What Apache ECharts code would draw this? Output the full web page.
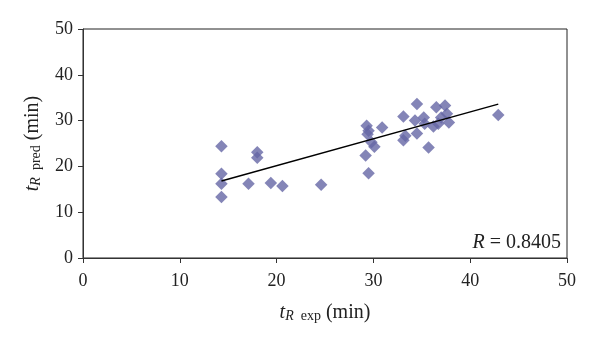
<!DOCTYPE html>
<html><head><meta charset="utf-8">
<script src="https://cdn.jsdelivr.net/npm/echarts@6/dist/echarts.min.js"></script>
<style>html,body{margin:0;padding:0;background:#fff}#c{width:600px;height:343px}</style>
</head><body><div id="c"></div>
<script>
const tExp = [14.3,14.3,14.3,14.3,17.1,18.0,18.0,19.4,20.6,24.6,
  29.3,29.5,29.4,29.2,29.5,30.1,29.8,30.9,
  33.1,33.3,33.1,34.5,34.3,35.2,34.5,35.3,35.7,36.2,36.5,37.4,37.0,37.6,37.8,36.7,42.9];
const tPred = [24.4,18.4,16.2,13.3,16.2,23.1,21.9,16.4,15.7,16.0,
  28.9,27.8,27.0,22.4,18.5,24.3,25.3,28.5,
  30.9,26.7,25.7,33.6,30.0,30.7,27.2,29.3,24.1,28.7,32.9,33.3,30.7,31.5,29.6,29.3,31.2];
const fitX = [14.3, 42.9];
const fitY = [16.8, 33.6];
const ticks = [0,10,20,30,40,50];

const chart = echarts.init(document.getElementById('c'), null, {renderer:'canvas'});
const font = 'Liberation Serif';
const titleRich = {
  i:{fontFamily:font,fontStyle:'italic',fontSize:20,color:'#222'},
  s:{fontFamily:font,fontStyle:'italic',fontSize:14,color:'#222',padding:[7,0,0,0]},
  sub:{fontFamily:font,fontSize:14,color:'#222',padding:[7,0,0,0]},
  n:{fontFamily:font,fontSize:20,color:'#222'}
};
const axisCommon = {
  min: 0, max: 50, interval: 10,
  splitLine: {show:false},
  axisLine: {show:true, lineStyle:{color:'#333', width:1}},
  axisTick: {show:true, inside:false, length:5, lineStyle:{color:'#333'}},
  axisLabel: {color:'#222', fontFamily:font, fontSize:18}
};
chart.setOption({
  animation:false,
  grid: {left:83, right:33, top:29, bottom:85, show:true, borderColor:'#222', borderWidth:1},
  xAxis: Object.assign({type:'value',
    name:'{i|t}{s|R}{sub|  exp}{n| (min)}', nameLocation:'middle', nameGap:44,
    nameTextStyle:{rich:titleRich}
  }, axisCommon, {axisLabel:Object.assign({}, axisCommon.axisLabel, {margin:14})}),
  yAxis: Object.assign({type:'value',
    name:'{i|t}{s|R}{sub|  pred}{n| (min)}', nameLocation:'middle', nameGap:40, nameRotate:90,
    nameTextStyle:{rich:titleRich}
  }, axisCommon, {axisLabel:Object.assign({}, axisCommon.axisLabel, {margin:10})}),
  series: [
    {type:'scatter', symbol:'diamond', symbolSize:12.5,
     itemStyle:{color:'#6567a5'},
     data: tExp.map((x,i)=>[x,tPred[i]]), z:2},
    {type:'line', data: fitX.map((x,i)=>[x,fitY[i]]), symbol:'none',
     lineStyle:{color:'#000', width:1.5}, z:3}
  ],
  graphic: [{type:'text', right:39, top:233,
    style:{text:'{i|R}{n| = 0.8405}', rich:{
      i:{fontFamily:font,fontStyle:'italic',fontSize:20,fill:'#222'},
      n:{fontFamily:font,fontSize:20,fill:'#222'}}}}]
});
</script></body></html>
